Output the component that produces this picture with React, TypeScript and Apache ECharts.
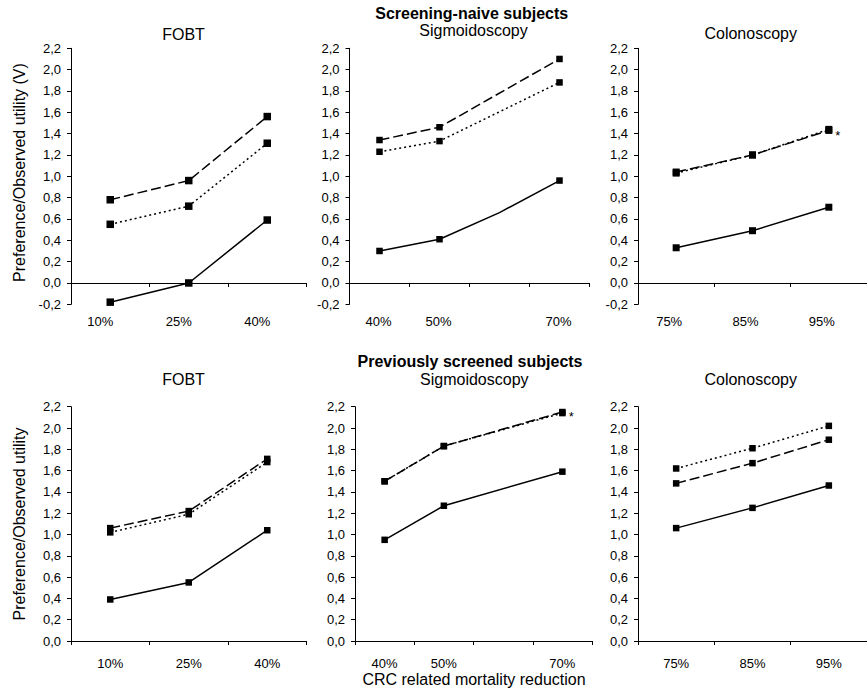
import React, { useEffect, useRef } from 'react';
import * as echarts from 'echarts';

const FONT = '"Liberation Sans", Arial, Helvetica, sans-serif';

// Category axes (CRC related mortality reduction)
const fobtCategories = ['10%', '25%', '40%'];
const sigmoCategories = ['40%', '50%', '60%', '70%'];
const colonoCategories = ['75%', '85%', '95%'];
const unlabelledCategories = ['60%'];

// Screening-naive subjects
const naiveFobtSolid = [-0.18, 0.0, 0.59];
const naiveFobtDashed = [0.78, 0.96, 1.56];
const naiveFobtDotted = [0.55, 0.72, 1.31];
const naiveSigmoSolid = [0.3, 0.41, 0.66, 0.96];
const naiveSigmoDashed = [1.34, 1.46, null, 2.1];
const naiveSigmoDotted = [1.23, 1.33, null, 1.88];
const naiveColonoSolid = [0.33, 0.49, 0.71];
const naiveColonoDashed = [1.04, 1.2, 1.43];
const naiveColonoDotted = [1.03, 1.2, 1.44];

// Previously screened subjects
const screenedFobtSolid = [0.39, 0.55, 1.04];
const screenedFobtDashed = [1.06, 1.22, 1.71];
const screenedFobtDotted = [1.02, 1.19, 1.68];
const screenedSigmoSolid = [0.95, 1.27, null, 1.59];
const screenedSigmoDashed = [1.5, 1.83, null, 2.15];
const screenedSigmoDotted = [1.5, 1.83, null, 2.14];
const screenedColonoSolid = [1.06, 1.25, 1.46];
const screenedColonoDashed = [1.48, 1.67, 1.89];
const screenedColonoDotted = [1.62, 1.81, 2.02];

// Points drawn as line vertices only (no marker)
const naiveSigmoSolidNoMarker = [2];

type Panel = {
  cats: string[];
  solid: (number | null)[];
  dashed: (number | null)[];
  dotted: (number | null)[];
  left: number;
  top: number;
  width: number;
  height: number;
  yMin: number;
  labelShift: number;
  labelMargin: number;
  noMarker?: number[];
  star?: { index: number; offsetY: number };
  markerSize: number;
};

const TOP_Y = 48.3;
const TOP_H = 256;
const BOT_Y = 406.7;
const BOT_H = 234.3;

const panels: Panel[] = [
  { cats: fobtCategories, solid: naiveFobtSolid, dashed: naiveFobtDashed, dotted: naiveFobtDotted,
    left: 71, top: TOP_Y, width: 235.5, height: TOP_H, yMin: -0.2, labelShift: 10, labelMargin: 10.5, markerSize: 7.5 },
  { cats: sigmoCategories, solid: naiveSigmoSolid, dashed: naiveSigmoDashed, dotted: naiveSigmoDotted,
    left: 349.5, top: TOP_Y, width: 240, height: TOP_H, yMin: -0.2, labelShift: 1, labelMargin: 10.5,
    noMarker: naiveSigmoSolidNoMarker, markerSize: 6.5 },
  { cats: colonoCategories, solid: naiveColonoSolid, dashed: naiveColonoDashed, dotted: naiveColonoDotted,
    left: 638, top: TOP_Y, width: 236, height: TOP_H, yMin: -0.2, labelShift: 7, labelMargin: 10.5,
    star: { index: 2, offsetY: 5 }, markerSize: 7 },
  { cats: fobtCategories, solid: screenedFobtSolid, dashed: screenedFobtDashed, dotted: screenedFobtDotted,
    left: 71, top: BOT_Y, width: 235.5, height: BOT_H, yMin: 0, labelShift: 0, labelMargin: 15.8, markerSize: 6.5 },
  { cats: sigmoCategories, solid: screenedSigmoSolid, dashed: screenedSigmoDashed, dotted: screenedSigmoDotted,
    left: 355, top: BOT_Y, width: 237, height: BOT_H, yMin: 0, labelShift: 0, labelMargin: 15.8,
    star: { index: 3, offsetY: 4 }, markerSize: 6.5 },
  { cats: colonoCategories, solid: screenedColonoSolid, dashed: screenedColonoDashed, dotted: screenedColonoDotted,
    left: 638, top: BOT_Y, width: 236, height: BOT_H, yMin: 0, labelShift: 0, labelMargin: 15.8, markerSize: 6.5 },
];

const fmtY = (v: number) => {
  const s = (Math.round(v * 10) / 10).toFixed(1).replace('.', ',');
  return s === '-0,0' ? '0,0' : s;
};

function buildOption() {
  const grid = panels.map((p) => ({ left: p.left, top: p.top, width: p.width, height: p.height }));
  const xAxis: any[] = [];
  const yAxis: any[] = [];
  const series: any[] = [];

  panels.forEach((p, i) => {
    // axis carrying the tick labels at the bottom of the plot
    xAxis.push({
      type: 'category',
      gridIndex: i,
      position: 'bottom',
      data: p.cats,
      boundaryGap: true,
      axisLine: { show: false, onZero: false },
      axisTick: { show: false },
      splitLine: { show: false },
      axisLabel: {
        show: true,
        interval: 0,
        margin: p.labelMargin,
        fontSize: 13,
        fontFamily: FONT,
        color: '#000',
        padding: [0, p.labelShift * 2, 0, 0],
        formatter: (v: string) => (unlabelledCategories.includes(v) && p.cats.length === 4 ? '' : v),
      },
    });
    // axis line crossing at zero with outside ticks
    xAxis.push({
      type: 'category',
      gridIndex: i,
      position: 'bottom',
      data: p.cats,
      boundaryGap: true,
      axisLine: { show: true, onZero: true, lineStyle: { color: '#000', width: 1 } },
      axisTick: { show: true, length: 4, inside: false, lineStyle: { color: '#000', width: 1 } },
      axisLabel: { show: false },
      splitLine: { show: false },
    });
    yAxis.push({
      type: 'value',
      gridIndex: i,
      min: p.yMin,
      max: 2.2,
      interval: 0.2,
      axisLine: { show: true, lineStyle: { color: '#000', width: 1 } },
      axisTick: { show: true, length: 4, lineStyle: { color: '#000', width: 1 } },
      splitLine: { show: false },
      axisLabel: { fontSize: 13, fontFamily: FONT, color: '#000', margin: 10, formatter: fmtY },
    });

    const xIdx = 2 * i;
    const mk = (vals: (number | null)[], kind: 'solid' | 'dashed' | 'dotted') =>
      vals.map((v, k) => {
        const item: any = { value: v };
        if (kind === 'solid' && p.noMarker && p.noMarker.includes(k)) item.symbol = 'none';
        if (kind === 'dashed' && p.star && p.star.index === k) {
          item.label = {
            show: true,
            formatter: '*',
            position: 'right',
            distance: 3,
            offset: [0, p.star.offsetY],
            fontSize: 13,
            fontFamily: FONT,
            color: '#000',
          };
        }
        return item;
      });

    const base = {
      type: 'line',
      xAxisIndex: xIdx,
      yAxisIndex: i,
      symbol: 'rect',
      symbolSize: p.markerSize,
      connectNulls: true,
      itemStyle: { color: '#000' },
      label: { show: false },
      emphasis: { disabled: true },
      silent: true,
    };
    series.push({ ...base, z: 2, data: mk(p.dotted, 'dotted'), lineStyle: { color: '#000', width: 1.5, type: [2, 3] } });
    series.push({ ...base, z: 3, data: mk(p.dashed, 'dashed'), lineStyle: { color: '#000', width: 1.5, type: [10, 4] } });
    series.push({ ...base, z: 4, data: mk(p.solid, 'solid'), lineStyle: { color: '#000', width: 1.5, type: 'solid' } });
  });

  const txt = (text: string, x: number, y: number, size: number, bold = false, rotation = 0) => ({
    type: 'text',
    x,
    y,
    rotation,
    silent: true,
    style: {
      text,
      fill: '#000',
      font: `${bold ? 'bold ' : ''}${size}px ${FONT}`,
      textAlign: 'center',
      textVerticalAlign: 'middle',
    },
  });

  const graphic = [
    txt('Screening-naive subjects', 471.7, 13.5, 16, true),
    txt('FOBT', 183.5, 34, 16),
    txt('Sigmoidoscopy', 473.5, 30, 16),
    txt('Colonoscopy', 750.7, 33, 16),
    txt('Previously screened subjects', 470, 361.5, 16, true),
    txt('FOBT', 183.5, 379, 16),
    txt('Sigmoidoscopy', 474.3, 379, 16),
    txt('Colonoscopy', 750.7, 379.5, 16),
    txt('Preference/Observed utility (V)', 19.7, 172.5, 16, false, Math.PI / 2),
    txt('Preference/Observed utility', 19.7, 524, 16, false, Math.PI / 2),
    txt('CRC related mortality reduction', 474, 679, 16),
  ];

  return {
    animation: false,
    backgroundColor: '#fff',
    textStyle: { fontFamily: FONT },
    grid,
    xAxis,
    yAxis,
    series,
    graphic,
  };
}

export default function App() {
  const ref = useRef<HTMLDivElement>(null);
  useEffect(() => {
    if (!ref.current) return;
    const chart = echarts.init(ref.current, undefined, { renderer: 'svg' });
    chart.setOption(buildOption() as any);
    return () => chart.dispose();
  }, []);
  return (
    <div
      ref={ref}
      style={{ position: 'fixed', left: 0, top: 0, width: 867, height: 689, background: '#fff' }}
    />
  );
}
